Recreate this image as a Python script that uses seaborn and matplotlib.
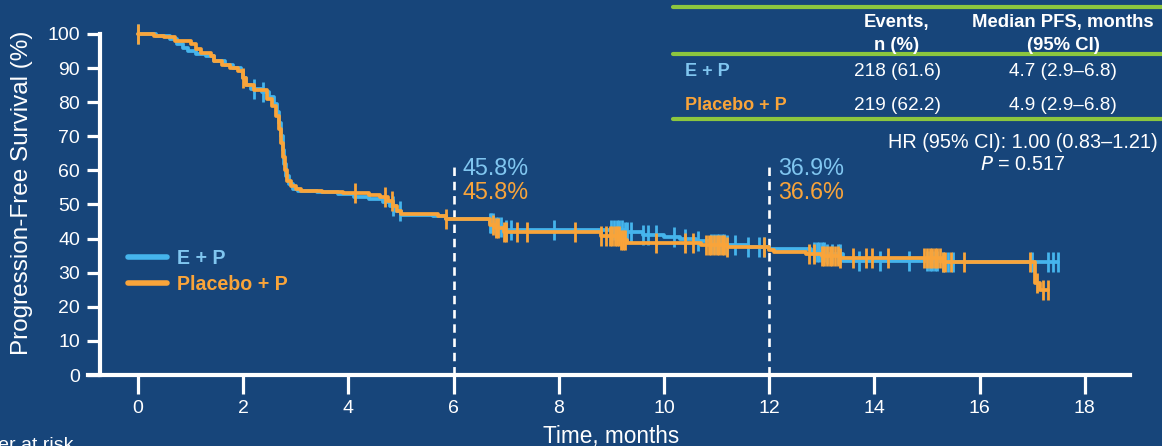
import numpy as np
import pandas as pd
import matplotlib
matplotlib.use("Agg")
import matplotlib.pyplot as plt
import seaborn as sns
from matplotlib.lines import Line2D

# Kaplan-Meier step points
arms = ["E + P", "Placebo + P"]

ep_month = [0.0, 0.35, 0.6, 0.75, 0.85, 0.95, 1.1, 1.3, 1.45, 1.65, 1.8, 1.95, 2.0, 2.05, 2.15,
            2.35, 2.5, 2.58, 2.64, 2.68, 2.72, 2.75, 2.78, 2.82, 2.88, 2.95, 3.05, 3.4, 3.8, 4.1,
            4.4, 4.65, 4.8, 4.9, 5.0, 5.6, 5.85, 6.7, 6.8, 6.95, 9.25, 9.6, 10.0, 10.3, 10.6,
            10.9, 11.2, 11.6, 12.0, 12.8, 13.1, 13.4, 14.0, 15.3, 17.5]
ep_pfs = [100, 99.5, 98.5, 97, 96, 95, 94, 93.5, 92, 91, 90, 89, 87, 85, 84,
          83, 81.5, 79.5, 77, 74, 70, 66, 62, 58.5, 56, 54.5, 54, 53.7, 53.2, 52.2,
          51.5, 50.8, 49.5, 48, 47, 46.5, 45.8, 44.5, 43.5, 42.5, 41.8, 41.2, 40.5, 40, 39.2,
          38.5, 38, 37.5, 36.9, 36.2, 35.5, 33.5, 33.3, 33.0, 33.0]

pp_month = [0.0, 0.3, 0.5, 0.7, 1.0, 1.1, 1.2, 1.38, 1.45, 1.6, 1.75, 1.9, 2.0, 2.05, 2.2,
            2.45, 2.55, 2.62, 2.68, 2.72, 2.76, 2.79, 2.84, 2.9, 3.0, 3.1, 3.5, 3.9, 4.4, 4.6,
            4.75, 4.85, 4.92, 5.0, 5.7, 5.85, 6.7, 6.8, 6.95, 8.8, 9.15, 9.3, 10.7, 11.2, 12.0,
            12.1, 12.7, 13.0, 13.35, 15.3, 17.05, 17.15, 17.3]
pp_pfs = [100, 99.5, 99, 98, 97.2, 95.5, 94.5, 93.5, 92, 91, 90, 89, 87, 85, 83.5,
          81, 79, 76, 72, 68, 64, 60, 57, 55.5, 54.5, 54, 53.8, 53.4, 52.8, 52.2,
          51, 49.5, 48, 47.2, 46.5, 45.8, 44, 43, 41.8, 40.8, 39.5, 38.8, 38, 37.5, 36.6,
          36.0, 35.5, 34.8, 34.3, 33.0, 27, 25, 25]

# censoring times
ep_cens = [0.0, 2.2, 2.38, 4.85, 4.98, 6.7, 6.72, 6.75, 6.8, 6.85, 6.9, 7.0, 7.1, 7.9,
           9.0, 9.05, 9.1, 9.15, 9.2, 9.25, 9.3, 9.37, 9.6, 9.7, 9.85, 10.2, 10.4, 10.65,
           10.9, 10.95, 11.0, 11.05, 11.1, 11.15, 11.2, 11.35, 11.6, 11.8, 11.9,
           12.85, 12.9, 12.95, 13.0, 13.05, 13.1, 13.2, 13.3, 13.35, 13.7, 14.1, 14.65,
           15.0, 15.05, 15.1, 15.15, 15.2, 15.3, 15.4, 15.5, 17.0, 17.3, 17.4, 17.5]
pp_cens = [0.0, 2.0, 4.13, 4.7, 4.83, 5.85, 6.75, 6.8, 6.85, 6.95, 7.0, 7.2, 7.4, 8.3,
           8.8, 8.9, 8.98, 9.02, 9.06, 9.1, 9.14, 9.18, 9.22, 9.25, 9.85, 10.4, 10.55,
           10.8, 10.85, 10.9, 10.95, 11.0, 11.05, 11.1, 11.15, 11.2, 11.9,
           12.75, 12.85, 13.0, 13.05, 13.1, 13.15, 13.2, 13.25, 13.3, 13.35, 13.6, 13.85,
           13.95, 14.25, 14.95, 15.0, 15.05, 15.1, 15.15, 15.2, 15.25, 15.3, 15.35, 15.45,
           15.7, 16.95, 17.1, 17.2, 17.3]

landmark_month = [6, 12]
landmark_ep = [45.8, 36.9]
landmark_pp = [45.8, 36.6]

table_events = ["218 (61.6)", "219 (62.2)"]
table_median = ["4.7 (2.9\u20136.8)", "4.9 (2.9\u20136.8)"]
hr_text = "HR (95% CI): 1.00 (0.83\u20131.21)"
p_value = "0.517"

bg = "#17457a"
blue = "#45b4ec"
orange = "#f9a43a"
blue_txt = "#80c6f0"
green = "#8cc63f"

km = pd.concat([
    pd.DataFrame({"month": ep_month, "pfs": ep_pfs, "arm": arms[0]}),
    pd.DataFrame({"month": pp_month, "pfs": pp_pfs, "arm": arms[1]}),
])

sns.set_style("white")
plt.rcParams["font.family"] = ["Liberation Sans", "DejaVu Sans"]

W, H = 1162, 446
fig = plt.figure(figsize=(W / 100, H / 100), dpi=100, facecolor=bg)


def fx(px):
    return px / W


def fy(py):
    return 1 - py / H


ax = fig.add_axes([fx(88), fy(375), (1130 - 88) / W, (375 - 6.7) / H])
ax.set_facecolor(bg)

sns.lineplot(data=km, x="month", y="pfs", hue="arm", hue_order=arms,
             palette=[blue, orange], drawstyle="steps-post", estimator=None,
             sort=False, lw=2.7, legend=False, ax=ax)

for cens, t, s, c, z in [(ep_cens, ep_month, ep_pfs, blue, 2.5), (pp_cens, pp_month, pp_pfs, orange, 3.5)]:
    idx = np.searchsorted(t, cens, side="right") - 1
    ax.plot(cens, np.array(s)[idx], ls="none", marker="|", ms=14, mew=2,
            color=c, zorder=z)

for ln, c in zip(ax.lines[:2], [blue, orange]):
    ln.set_zorder(2 if c == blue else 3)

# landmark lines + labels
ax.vlines(landmark_month, 0, 62.5, colors="white", lw=1.9,
          linestyles=(0, (3.2, 2.2)), zorder=1)
for m, a, b in zip(landmark_month, landmark_ep, landmark_pp):
    ax.text(m + 0.17, 60.7, f"{a}%", color=blue_txt, fontsize=16.8, va="center")
    ax.text(m + 0.17, 53.4, f"{b}%", color=orange, fontsize=16.8, va="center")

ax.set_xlim(-0.95, 18.86)
ax.set_ylim(0, 108)
ax.set_xticks(range(0, 19, 2))
ax.set_yticks(range(0, 101, 10))
for side in ["top", "right"]:
    ax.spines[side].set_visible(False)
ax.spines["left"].set_position(("data", -0.72))
ax.spines["left"].set_bounds(0, 100)
for side in ["left", "bottom"]:
    ax.spines[side].set_color("white")
    ax.spines[side].set_linewidth(3)
ax.tick_params(axis="x", bottom=True, direction="out", length=14, width=2.3,
               colors="white", labelsize=14, pad=4)
ax.tick_params(axis="y", left=True, direction="out", length=9.5, width=2.3,
               colors="white", labelsize=14, pad=5)
ax.set_xlabel("")
ax.set_ylabel("")

fig.text(fx(22), fy(193), "Progression-Free Survival (%)", rotation=90,
         ha="center", va="center", color="white", fontsize=17.5)
fig.text(fx(611), fy(436), "Time, months", ha="center", va="center",
         color="white", fontsize=16.3)
fig.text(fx(-54), fy(437), "Number at risk", ha="left", va="top",
         color="white", fontsize=14)

# legend
handles = [Line2D([], [], color=blue, lw=4), Line2D([], [], color=orange, lw=4)]
leg = ax.legend(handles, arms, loc="center left", bbox_to_anchor=(0.038, 0.282),
                frameon=False, borderpad=0, borderaxespad=0, handlelength=2.0,
                handletextpad=0.5, labelspacing=0.35,
                prop={"size": 14.1, "weight": "bold"})
for txt, c in zip(leg.get_texts(), [blue_txt, orange]):
    txt.set_color(c)

# summary table
for py in [7, 54, 119]:
    fig.add_artist(Line2D([fx(673), 1], [fy(py), fy(py)], color=green, lw=3))
fig.text(fx(897), fy(22), "Events,", ha="center", va="center", color="white",
         fontsize=13.3, weight="bold")
fig.text(fx(897), fy(45), "n (%)", ha="center", va="center", color="white",
         fontsize=13.3, weight="bold")
fig.text(fx(1063), fy(22), "Median PFS, months", ha="center", va="center",
         color="white", fontsize=13.3, weight="bold")
fig.text(fx(1063), fy(45), "(95% CI)", ha="center", va="center", color="white",
         fontsize=13.3, weight="bold")
for py, arm, ev, med, c in zip([72, 105], arms, table_events, table_median, [blue_txt, orange]):
    fig.text(fx(685), fy(py), arm, ha="left", va="center", color=c,
             fontsize=13, weight="bold")
    fig.text(fx(897), fy(py), ev, ha="center", va="center", color="white", fontsize=13.7)
    fig.text(fx(1063), fy(py), med, ha="center", va="center", color="white", fontsize=13.7)
fig.text(fx(1158), fy(143), hr_text, ha="right", va="center", color="white", fontsize=14.3)
fig.text(fx(1023), fy(164), f"$P$ = {p_value}", ha="center", va="center",
         color="white", fontsize=14.3)

fig.savefig("out.png", dpi=100, facecolor=bg)
